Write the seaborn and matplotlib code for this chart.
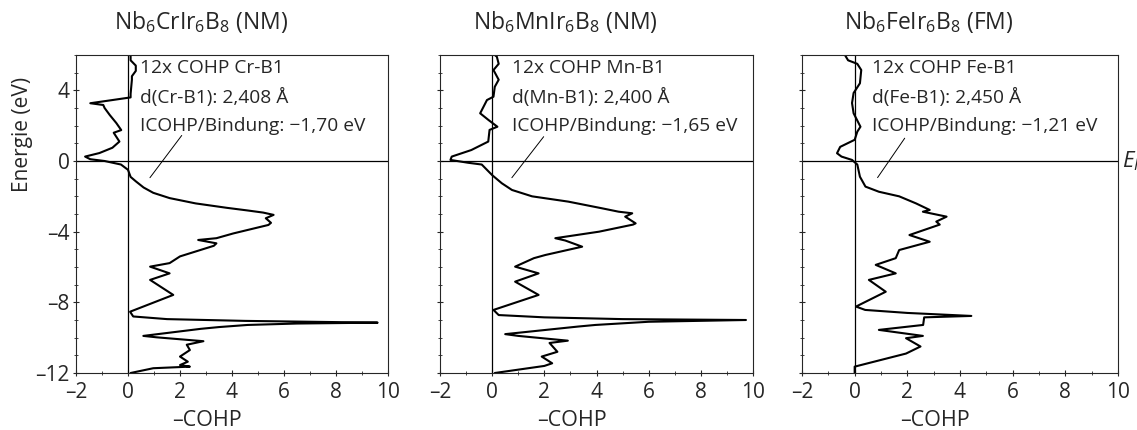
import numpy as np
import pandas as pd
import matplotlib
matplotlib.use("Agg")
import matplotlib.pyplot as plt
import seaborn as sns

# ---------------- data ----------------
titles = ["Nb$_6$CrIr$_6$B$_8$ (NM)", "Nb$_6$MnIr$_6$B$_8$ (NM)", "Nb$_6$FeIr$_6$B$_8$ (FM)"]
labels1 = ["12x COHP Cr-B1", "12x COHP Mn-B1", "12x COHP Fe-B1"]
labels2 = ["d(Cr-B1): 2,408 Å", "d(Mn-B1): 2,400 Å", "d(Fe-B1): 2,450 Å"]
labels3 = ["ICOHP/Bindung: \u22121,70 eV", "ICOHP/Bindung: \u22121,65 eV", "ICOHP/Bindung: \u22121,21 eV"]

energy_cr = [6.0, 5.7, 5.4, 5.1, 4.8, 4.6, 3.8, 3.6, 3.45, 3.27, 3.17, 3.0, 2.6, 2.15, 1.75, 1.6, 1.1, 0.75,
             0.45, 0.25, 0.1, 0.0, -0.2, -0.5, -0.9, -1.15, -1.5, -1.8, -2.1, -2.4, -2.65, -2.8, -2.92, -3.05,
             -3.24, -3.5, -3.62, -4.1, -4.37, -4.47, -4.66, -4.8, -5.4, -5.78, -5.98, -6.36, -6.73, -7.58,
             -8.53, -8.8, -8.95, -9.05, -9.15, -9.2, -9.28, -9.4, -9.5, -9.9, -9.98, -10.2, -10.4, -10.7,
             -11.07, -11.36, -11.55, -11.64, -11.73, -12.0]
cohp_cr = [0.1, 0.1, 0.3, 0.3, 0.15, 0.15, 0.1, 0.1, -0.6, -1.45, -0.95, -0.9, -0.7, -0.45, -0.26, -0.55, -0.33,
           -0.6, -1.1, -1.65, -1.45, -0.9, -0.27, 0.0, 0.1, 0.3, 0.6, 0.97, 1.6, 2.6, 3.8, 4.6, 5.2, 5.6,
           5.3, 5.5, 5.4, 4.05, 3.4, 2.7, 3.4, 3.3, 2.0, 1.6, 0.85, 1.6, 0.85, 1.74,
           0.08, 0.2, 1.5, 4.5, 9.6, 6.5, 4.6, 3.5, 2.8, 0.59, 1.1, 2.9, 2.26, 2.38,
           2.0, 2.3, 2.0, 2.38, 0.97, 0.1]

energy_mn = [6.0, 5.9, 5.5, 5.15, 4.6, 4.2, 3.64, 3.45, 2.7, 2.32, 1.94, 1.76, 1.1, 0.62, 0.25, 0.06, -0.1,
             -0.2, -0.8, -1.26, -1.64, -2.0, -2.3, -2.68, -2.87, -2.96, -3.15, -3.53, -3.6, -4.0, -4.37,
             -4.5, -4.85, -5.32, -5.5, -5.98, -6.36, -6.83, -7.58, -8.43, -8.72, -8.85, -8.95, -9.0, -9.1,
             -9.28, -9.37, -9.8, -9.9, -10.17, -10.3, -10.8, -11.07, -11.45, -11.6, -12.0]
cohp_mn = [0.1, 0.18, 0.25, 0.05, 0.25, 0.1, 0.05, -0.2, -0.46, -0.14, 0.2, -0.1, -0.15, -0.8, -1.55, -1.6, -0.92,
           -0.4, 0.0, 0.37, 0.76, 1.53, 2.92, 4.22, 4.85, 5.37, 5.1, 5.5, 5.4, 4.1, 2.42,
           2.8, 3.45, 2.04, 1.6, 0.88, 1.78, 0.88, 1.78, 0.05, 0.25, 2.0, 5.0, 9.73, 6.0,
           3.96, 3.3, 0.5, 1.0, 2.9, 2.2, 2.5, 1.9, 2.3, 2.0, 0.1]

energy_fe = [6.0, 5.7, 5.5, 5.15, 4.4, 3.85, 3.28, 2.7, 1.94, 1.66, 1.2, 0.8, 0.44, 0.25, 0.06, -0.2, -0.89,
             -1.45, -1.74, -2.0, -2.4, -2.77, -2.87, -3.15, -3.43, -3.6, -4.19, -4.57, -5.04, -5.5, -5.88,
             -6.36, -6.73, -7.4, -8.24, -8.43, -8.6, -8.77, -8.85, -9.28, -9.56, -9.9, -10.03, -10.5,
             -10.9, -11.64, -12.0]
cohp_fe = [-0.37, -0.25, 0.1, 0.25, 0.2, -0.04, -0.1, -0.04, 0.22, 0.1, 0.0, -0.55, -0.67, -0.5, -0.1, 0.1, 0.2,
           0.41, 0.92, 1.69, 2.33, 2.85, 2.59, 3.49, 3.1, 3.23, 2.08, 2.85, 1.69, 1.56, 0.8,
           1.56, 0.54, 1.18, 0.05, 0.4, 2.0, 4.43, 2.64, 2.6, 0.92, 2.59, 1.95, 2.5,
           1.95, 0.0, 0.0]

energies = [energy_cr, energy_mn, energy_fe]
cohps = [cohp_cr, cohp_mn, cohp_fe]

text_x = [0.48, 0.77, 0.64]
text_y = [5.27, 3.62, 2.0]
leader_start = [(0.78, -1.07), (0.69, -1.07), (0.81, -1.07)]
leader_end = [(2.13, 1.57), (2.04, 1.5), (1.96, 1.42)]

xticks = [-2, 0, 2, 4, 6, 8, 10]
yticks = [-12, -8, -4, 0, 4]

# ---------------- style ----------------
sns.set_style("ticks")
plt.rcParams["font.family"] = ["Open Sans", "DejaVu Sans"]
plt.rcParams["mathtext.fontset"] = "custom"
plt.rcParams["mathtext.rm"] = "Open Sans"
plt.rcParams["mathtext.it"] = "Open Sans:italic"
plt.rcParams["mathtext.bf"] = "Open Sans:bold"

fig = plt.figure(figsize=(11.37, 4.30), dpi=100)
lefts = [76 / 1137, 440 / 1137, 802 / 1137]
widths = [312 / 1137, 313 / 1137, 316 / 1137]
bottom = 1 - 373 / 430
height = (373 - 55) / 430

def fmt(t):
    return ("\u2013" + str(-t)) if t < 0 else str(t)

for i in range(3):
    ax = fig.add_axes([lefts[i], bottom, widths[i], height])
    df = pd.DataFrame({"E": energies[i], "COHP": cohps[i]})
    sns.lineplot(data=df, x="COHP", y="E", sort=False, orient="y", estimator=None,
                 color="black", lw=1.5, ax=ax)
    ax.axhline(0, color="black", lw=0.9)
    ax.axvline(0, color="black", lw=0.9)
    ax.set_xlim(-2, 10)
    ax.set_ylim(-12, 6)
    ax.set_xticks(xticks)
    ax.set_yticks(yticks)
    ax.set_xticks(np.arange(-2, 11, 1), minor=True)
    ax.set_yticks(np.arange(-12, 7, 1), minor=True)
    ax.tick_params(which="major", direction="inout", length=5, width=0.8, labelsize=15)
    ax.tick_params(axis="x", which="major", pad=4)
    ax.tick_params(axis="y", which="major", pad=2)
    ax.tick_params(which="minor", direction="inout", length=3, width=0.6)
    ax.set_xticklabels([fmt(t) for t in xticks])
    if i == 0:
        ax.set_yticklabels([fmt(t) for t in yticks])
        ax.set_ylabel("Energie (eV)", fontsize=15)
        ax.yaxis.set_label_coords(-0.138, 0.75)
    else:
        ax.set_yticklabels([])
        ax.set_ylabel("")
    ax.set_xlabel("\u2013COHP", fontsize=15.5)
    ax.xaxis.set_label_coords(0.42, -0.115)
    for s in ax.spines.values():
        s.set_linewidth(0.8)
        s.set_visible(True)
    ax.text(0.40, 1.105, titles[i], transform=ax.transAxes, ha="center", va="center", fontsize=16.5)
    for txt, yy in zip([labels1[i], labels2[i], labels3[i]], text_y):
        ax.text(text_x[i], yy, txt, ha="left", va="center", fontsize=13.8)
    ax.annotate("", xy=leader_start[i], xytext=leader_end[i],
                arrowprops=dict(arrowstyle="-", lw=0.7, color="black"))
    if i == 2:
        ax.text(1.012, 0, "$E_F$", transform=ax.get_yaxis_transform(), ha="left", va="center",
                fontsize=16, fontstyle="italic")

fig.savefig("out.png", dpi=100)
